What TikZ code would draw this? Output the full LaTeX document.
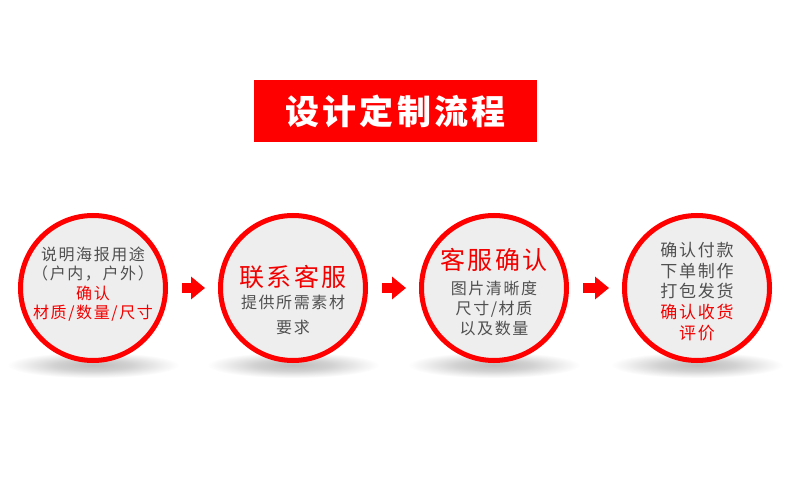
\documentclass[tikz,border=0pt]{standalone}
\usepackage{fontspec}
\setmainfont{Noto Sans CJK SC}
\newfontfamily\cjk{Noto Sans CJK SC}[LetterSpace=10]
\usetikzlibrary{arrows.meta}
\definecolor{ringred}{HTML}{FF0000}
\definecolor{textred}{HTML}{F20000}
\definecolor{textgray}{HTML}{505050}
\definecolor{discgray}{HTML}{EFEEEE}
\pgfdeclareradialshading{discshadow}{\pgfpoint{0bp}{0bp}}{color(0bp)=(black!26); color(11bp)=(black!18); color(20bp)=(black!6); color(25bp)=(white); color(50bp)=(white)}
\tikzset{
  stepdisc/.style={circle, draw=ringred, line width=5pt, fill=discgray, minimum size=145pt, inner sep=0pt},
  disctext/.style={align=center, text=textgray, inner sep=0pt},
  fatarrow/.style={ringred, line width=10pt, -{Triangle[length=14pt, width=22pt]}},
  titlebox/.style={fill=ringred, minimum width=283pt, minimum height=62pt, text=white, inner sep=0pt}
}

\begin{document}
\begin{tikzpicture}[x=1pt, y=-1pt]
  \useasboundingbox[fill=white] (0,0) rectangle (790,478);
  \node[titlebox, font=\cjk\bfseries\fontsize{34}{36}\selectfont] (title) at (395.5,111.5) {设计定制流程};

  % shadows under the discs
  \foreach \x in {93,293,494,697}
    \shade[shading=discshadow] (\x,365) ellipse (86 and 13);

  \node[stepdisc] (c1) at (93,288) {};
  \node[stepdisc] (c2) at (293,288) {};
  \node[stepdisc] (c3) at (494,288) {};
  \node[stepdisc] (c4) at (697,288) {};

  \node[disctext, font=\cjk\fontsize{16}{19.5}\selectfont] (t1) at (93,284)
    {说明海报用途\\（户内，户外）\\{\color{textred}确认}\\{\color{textred}材质/数量/尺寸}};
  \node[disctext, font=\cjk\fontsize{16}{25}\selectfont] (t2) at (293,300)
    {{\fontsize{25}{25}\selectfont\color{textred}联系客服}\\[-2.5pt]提供所需素材\\要求};
  \node[disctext, font=\cjk\fontsize{16}{20}\selectfont] (t3) at (494,292)
    {{\fontsize{25}{20}\selectfont\color{textred}客服确认}\\[4.5pt]图片清晰度\\尺寸/材质\\以及数量};
  \node[disctext, font=\cjk\fontsize{17}{20.7}\selectfont] (t4) at (697,291.5)
    {确认付款\\下单制作\\打包发货\\{\color{textred}确认收货}\\{\color{textred}评价}};

  \draw[fatarrow] ([xshift=14pt]c1.east) -- ([xshift=-13pt]c2.west);
  \draw[fatarrow] ([xshift=14pt]c2.east) -- ([xshift=-13pt]c3.west);
  \draw[fatarrow] ([xshift=14pt]c3.east) -- ([xshift=-13pt]c4.west);
\end{tikzpicture}
\end{document}
